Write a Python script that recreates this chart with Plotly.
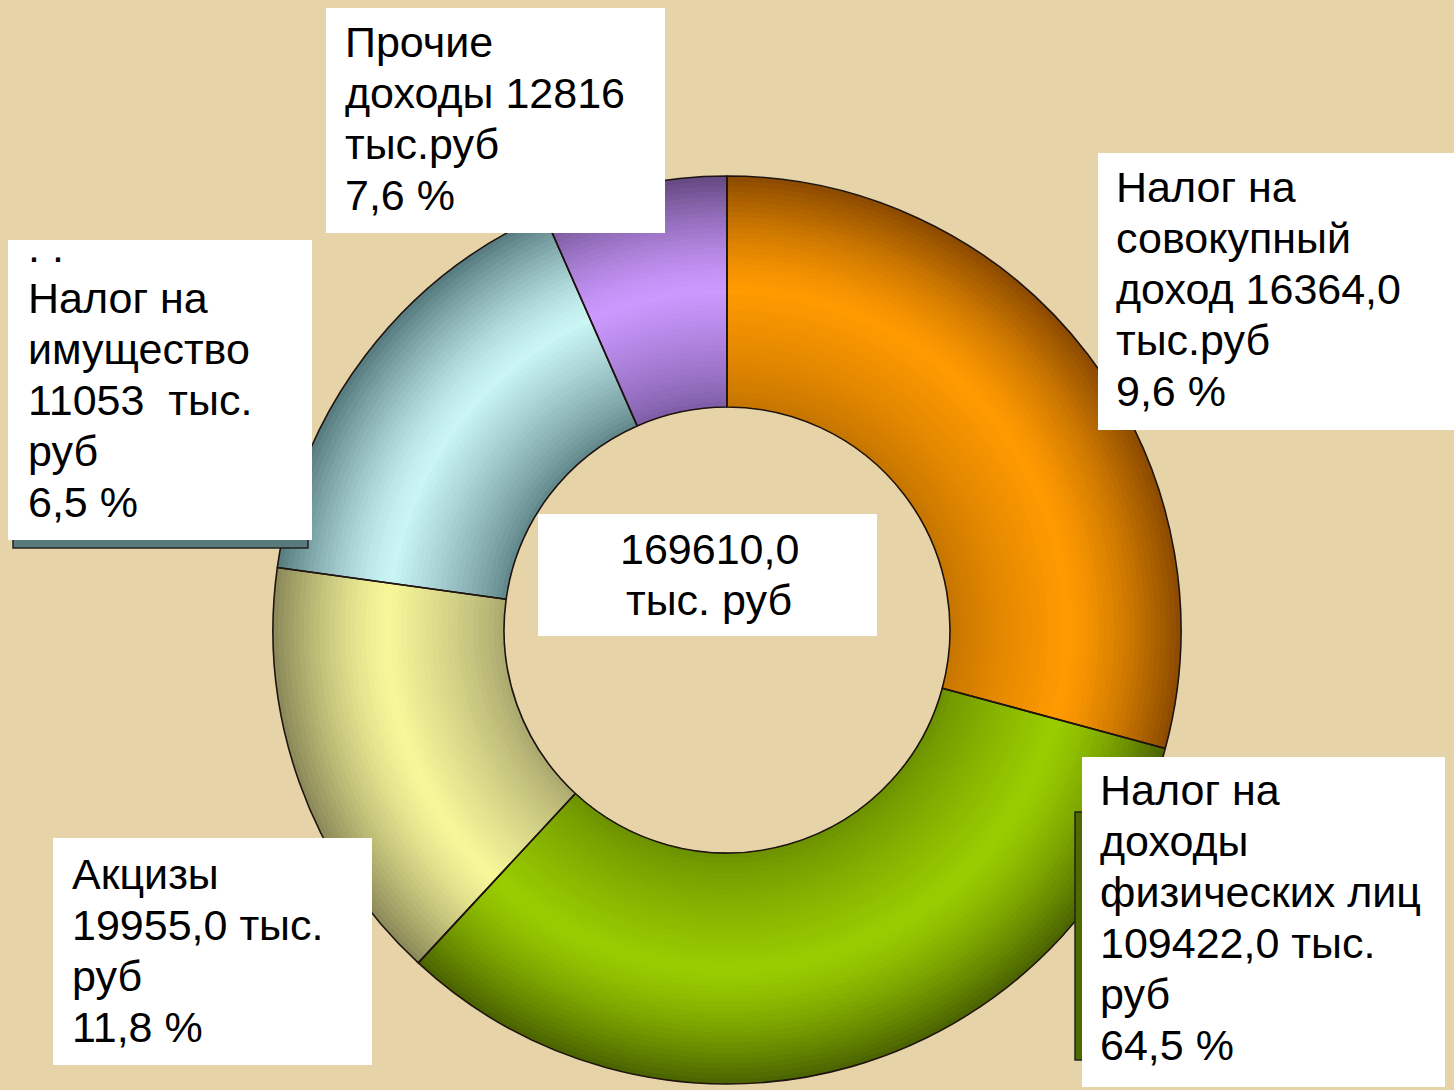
import plotly.graph_objects as go

# ---------------- data ----------------
categories = ["Налог на совокупный доход", "Налог на доходы физических лиц",
              "Акцизы", "Налог на имущество", "Прочие доходы"]
# angular share of each ring segment (clockwise from 12 o'clock)
slice_share = [29.2, 32.7, 15.3, 16.2, 6.6]
amount_text = ["16364,0", "109422,0", "19955,0", "11053", "12816"]
percent_text = ["9,6 %", "64,5 %", "11,8 %", "6,5 %", "7,6 %"]
total_text = "169610,0"

# label box text lines
lines_sov = ["Налог на", "совокупный", "доход " + amount_text[0], "тыс.руб", percent_text[0]]
lines_ndfl = ["Налог на", "доходы", "физических лиц", amount_text[1] + " тыс.", "руб", percent_text[1]]
lines_akc = ["Акцизы", amount_text[2] + " тыс.", "руб", percent_text[2]]
lines_im = [". .", "Налог на", "имущество", amount_text[3] + "  тыс.", "руб", percent_text[3]]
lines_pr = ["Прочие", "доходы " + amount_text[4], "тыс.руб", percent_text[4]]
lines_tot = [total_text, "тыс. руб"]

# ---------------- style ----------------
W, H = 1454, 1090
CX, CY = 727, 630
R_OUT, R_IN = 454, 223
BG = "#E7D3A8"

# (outer edge, bright band, inner edge) per slice
shades = [
    ("#8A4A00", "#FF9A00", "#C47400"),
    ("#4A6200", "#9ACD00", "#6C9000"),
    ("#8A8858", "#F7F79A", "#A9A66E"),
    ("#557A7E", "#CAF5F5", "#5E8488"),
    ("#634880", "#CC99FF", "#7C5CA4"),
]


def hx(c):
    c = c.lstrip("#")
    return [int(c[i:i + 2], 16) for i in (0, 2, 4)]


def mix(a, b, f):
    a, b = hx(a), hx(b)
    return "rgb(%d,%d,%d)" % tuple(round(a[i] + (b[i] - a[i]) * f) for i in range(3))


def shade(sl, t):
    outer, peak, inner = shades[sl]
    p = 0.5
    if t < p:
        return mix(inner, peak, (t / p) ** 0.8)
    return mix(peak, outer, ((t - p) / (1 - p)) ** 1.4)


def dom(r):
    return dict(x=[(CX - r) / W, (CX + r) / W],
                y=[1 - (CY + r) / H, 1 - (CY - r) / H])


fig = go.Figure()
N = 45
step = (R_OUT - R_IN) / N
for k in range(N):
    r = R_OUT - k * step
    t = (r - step / 2 - R_IN) / (R_OUT - R_IN)
    fig.add_trace(go.Pie(
        labels=categories, values=slice_share, sort=False, direction="clockwise",
        rotation=0, hole=R_IN / r, domain=dom(r), textinfo="none",
        hoverinfo="skip", showlegend=False,
        marker=dict(colors=[shade(i, t) for i in range(len(categories))],
                    line=dict(width=0)),
    ))

# outlines
fig.add_trace(go.Pie(
    labels=categories, values=slice_share, sort=False, direction="clockwise",
    rotation=0, hole=R_IN / R_OUT, domain=dom(R_OUT), textinfo="none",
    hoverinfo="skip", showlegend=False,
    marker=dict(colors=["rgba(0,0,0,0)"] * len(categories),
                line=dict(color="#1E1410", width=1.6)),
))

shapes = []
annotations = []
FS = 43
FONT = "Arial, Liberation Sans, sans-serif"


def rect(x0, y0, x1, y1, fill, line=None):
    shapes.append(dict(type="rect", xref="paper", yref="paper",
                       x0=x0 / W, x1=x1 / W, y0=1 - y1 / H, y1=1 - y0 / H,
                       fillcolor=fill, layer="above",
                       line=dict(width=1.5 if line else 0, color=line or fill)))


def text_lines(lines, x, base0, gap=51, anchor="left"):
    for i, s in enumerate(lines):
        annotations.append(dict(
            xref="paper", yref="paper", x=x / W, y=1 - (base0 + i * gap - 16) / H,
            xanchor=anchor, yanchor="middle", text=s, showarrow=False,
            font=dict(family=FONT, size=FS, color="#000000"), borderpad=0))


# shadow pieces behind boxes
rect(13, 520, 308, 548, "#587A7C", "#222222")
rect(1075, 812, 1095, 1060, "#4E6A00", "#222222")

# white label boxes
rect(326, 8, 665, 233, "#FFFFFF")
rect(1098, 153, 1454, 430, "#FFFFFF")
rect(8, 240, 312, 540, "#FFFFFF")
rect(538, 514, 877, 636, "#FFFFFF")
rect(53, 838, 372, 1065, "#FFFFFF")
rect(1082, 757, 1445, 1087, "#FFFFFF")

text_lines(lines_pr, 344, 58)
text_lines(lines_sov, 1115, 203)
text_lines(lines_im, 27, 263)
text_lines(lines_tot, 709, 565, anchor="center")
text_lines(lines_akc, 71, 890)
text_lines(lines_ndfl, 1099, 806)

fig.update_layout(
    width=W, height=H, margin=dict(l=0, r=0, t=0, b=0),
    paper_bgcolor=BG, plot_bgcolor=BG,
    shapes=shapes, annotations=annotations,
)

fig.write_html("out.html", config={"displayModeBar": False},
               post_script="document.body.style.margin='0';document.body.style.overflow='hidden';")
